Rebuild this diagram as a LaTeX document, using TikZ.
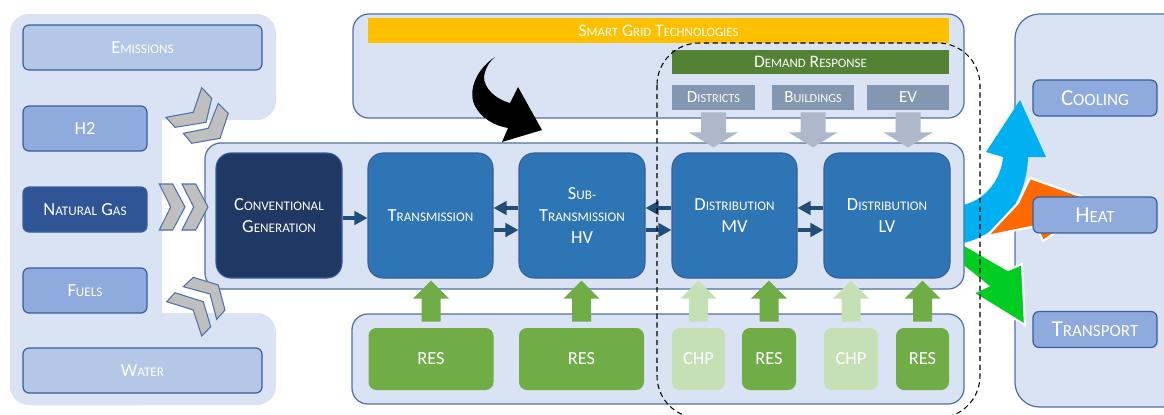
\documentclass[tikz,border=0pt]{standalone}
\usepackage{fontspec}
\setmainfont{Carlito}
\usetikzlibrary{calc,arrows.meta}

\definecolor{panelfill}{HTML}{DAE3F3}
\definecolor{panelline}{HTML}{4F71A8}
\definecolor{boxline}{HTML}{3A5D9C}
\definecolor{paleblue}{HTML}{B4C7E7}
\definecolor{midblue}{HTML}{8FAADC}
\definecolor{gasblue}{HTML}{2F5597}
\definecolor{navy}{HTML}{203864}
\definecolor{gridblue}{HTML}{2E75B6}
\definecolor{flowblue}{HTML}{1F4E79}
\definecolor{sgtyellow}{HTML}{FFC000}
\definecolor{drgreen}{HTML}{548235}
\definecolor{drgrey}{HTML}{8497B0}
\definecolor{drarrow}{HTML}{ADB9CA}
\definecolor{resgreen}{HTML}{70AD47}
\definecolor{chpgreen}{HTML}{C5E0B4}
\definecolor{chevfill}{HTML}{BFBFBF}
\definecolor{coolblue}{HTML}{00B0F0}
\definecolor{heatorange}{HTML}{FF6A00}
\definecolor{transgreen}{HTML}{00CC22}

% small capitals built from two sizes
\def\smcsize{7.5}
\newcommand\smc[1]{{\fontsize{\smcsize}{9}\selectfont #1}}

\begin{document}
\begin{tikzpicture}[x=0.02cm,y=-0.02cm,
  lbl/.style={text=white, inner sep=0pt, align=center,
              font=\fontsize{10.5}{12.5}\selectfont\def\smcsize{7.5}},
  biglbl/.style={font=\fontsize{13}{15}\selectfont\def\smcsize{9.7}},
  toplbl/.style={font=\fontsize{10}{12}\selectfont\def\smcsize{7.3}},
  drlbl/.style={font=\fontsize{9.7}{11}\selectfont\def\smcsize{7}},
  sbox/.style={lbl, draw=boxline, line width=0.7pt, rounded corners=3.5pt},
  gbox/.style={lbl, draw=boxline, line width=0.6pt, rounded corners=8.5pt},
  resbox/.style={lbl, rounded corners=4.5pt},
  wh/.style 2 args={minimum width=#1*0.02cm, minimum height=#2*0.02cm},
  panel/.style={fill=panelfill, draw=panelline, line width=0.7pt, rounded corners=9pt},
  flow/.style={draw=flowblue, line width=2.8pt, -{Triangle[length=7.4pt,width=7.6pt]}},
  chev/.style={fill=chevfill, draw=panelline, line width=0.6pt, line join=miter},
  frame/.style={draw=black, line width=0.6pt, dash pattern=on 3pt off 2pt, rounded corners=24pt}
]
\clip (0,0) rectangle (1164,414);
\fill[white] (0,0) rectangle (1164,414);

% resources panel on the left
\fill[panelfill, rounded corners=11pt] (10,14) rectangle (276,120);
\fill[panelfill, rounded corners=11pt] (10,14) rectangle (162,405);
\fill[panelfill, rounded corners=11pt] (10,313) rectangle (276,405);

% end-use panel on the right
\draw[panel, rounded corners=14pt] (1015,14) rectangle (1190,407);

% end-use arrows leaving the grid
\fill[coolblue] (963,205) .. controls (985,200) and (1001,180) .. (1003,157)
  -- (986,152) -- (1020,100) -- (1046,157) -- (1028,157)
  .. controls (1027,200) and (1000,235) .. (963,243) -- cycle;
\filldraw[fill=heatorange, draw=white, line width=1.2pt]
  (987,236) -- (1018,203) -- (1030,178) -- (1100,203) -- (1043,241) -- (1036,226) -- cycle;
\filldraw[fill=transgreen, draw=white, line width=1.2pt]
  (963,244) -- (1008,270) -- (1022,264) -- (1025,325) -- (973,293) -- (988,286) -- (963,266) -- cycle;

% grid panels
\draw[panel] (353,14) rectangle (964,118);
\draw[panel] (205,143) rectangle (964,289);
\draw[panel] (352,314) rectangle (964,404);

% resources
\node[sbox, fill=paleblue, wh={239}{45}] (emis)  at (142.5,47.5)  {E\smc{MISSIONS}};
\node[sbox, fill=midblue,  wh={124}{45}] (h2)    at (85,128.5)    {H2};
\node[sbox, fill=gasblue,  wh={124}{45}] (ng)    at (85,209.5)    {N\smc{ATURAL} G\smc{AS}};
\node[sbox, fill=midblue,  wh={124}{45}] (fuels) at (85,290.5)    {F\smc{UELS}};
\node[sbox, fill=paleblue, wh={239}{45}] (water) at (142.5,370.5) {W\smc{ATER}};

% smart grid technologies
\node[lbl, toplbl, fill=sgtyellow, wh={581}{25}] (sgt) at (658.5,30.5) {S\smc{MART} G\smc{RID} T\smc{ECHNOLOGIES}};
\node[lbl, toplbl, fill=drgreen, wh={277}{24}] (dr) at (810.5,62) {D\smc{EMAND} R\smc{ESPONSE}};
\node[lbl, drlbl, fill=drgrey, wh={83}{25}] (districts) at (713.5,97.5) {D\smc{ISTRICTS}};
\node[lbl, drlbl, fill=drgrey, wh={82}{25}] (buildings) at (813,97.5) {B\smc{UILDINGS}};
\node[lbl, drlbl, fill=drgrey, wh={82}{25}] (ev) at (908,97.5) {EV};

% grid chain
\node[gbox, fill=navy, wh={126}{125}] (conv) at (279,215.5) {C\smc{ONVENTIONAL}\\G\smc{ENERATION}};
\node[gbox, fill=gridblue, wh={125}{125}] (trans) at (430.5,215.5) {T\smc{RANSMISSION}};
\node[gbox, fill=gridblue, wh={126}{125}] (subt) at (582,215.5) {S\smc{UB-}\\T\smc{RANSMISSION}\\HV};
\node[gbox, fill=gridblue, wh={125}{125}] (dmv) at (734.5,215.5) {D\smc{ISTRIBUTION}\\MV};
\node[gbox, fill=gridblue, wh={126}{125}] (dlv) at (887,215.5) {D\smc{ISTRIBUTION}\\LV};

\draw[flow] ($(conv.east)+(0,2.5)$) -- ($(trans.west)+(0,2.5)$);
\draw[flow] ($(subt.west)+(0,-7.5)$) -- ($(trans.east)+(0,-7.5)$);
\draw[flow] ($(trans.east)+(0,14.5)$) -- ($(subt.west)+(0,14.5)$);
\draw[flow] ($(dmv.west)+(0,-7.5)$) -- ($(subt.east)+(0,-7.5)$);
\draw[flow] ($(subt.east)+(0,14.5)$) -- ($(dmv.west)+(0,14.5)$);
\draw[flow] ($(dlv.west)+(0,-7.5)$) -- ($(dmv.east)+(0,-7.5)$);
\draw[flow] ($(dmv.east)+(0,14.5)$) -- ($(dlv.west)+(0,14.5)$);

% local generation
\node[resbox, fill=resgreen, wh={125}{62}] (res1) at (431,359)   {RES};
\node[resbox, fill=resgreen, wh={125}{62}] (res2) at (581.5,359) {RES};
\node[resbox, fill=chpgreen, wh={53}{62}]  (chp1) at (698.5,359) {CHP};
\node[resbox, fill=resgreen, wh={54}{62}]  (res3) at (769,359)   {RES};
\node[resbox, fill=chpgreen, wh={54}{62}]  (chp2) at (851,359)   {CHP};
\node[resbox, fill=resgreen, wh={53}{62}]  (res4) at (922.5,359) {RES};

\foreach \n/\c in {res1/resgreen, res2/resgreen, chp1/chpgreen, res3/resgreen, chp2/chpgreen, res4/resgreen}
  \fill[\c, shift={(\n.north)}] (-9.5,-6) -- (-9.5,-29) -- (-18,-29) -- (0,-47)
    -- (18,-29) -- (9.5,-29) -- (9.5,-6) -- cycle;

% demand response feeding the distribution level
\foreach \n in {districts, buildings, ev}
  \fill[drarrow, shift={(\n.south)}] (-12.5,2) -- (-12.5,22) -- (-24.5,22) -- (0,37)
    -- (24.5,22) -- (12.5,22) -- (12.5,2) -- cycle;

% chevrons from the resources
\filldraw[chev] (166,117.3) -- (193.3,112.3) -- (201.7,87.7) -- (211.7,98.3) -- (206,122.3) -- (175,127.3) -- cycle;
\filldraw[chev] (183.3,133.3) -- (208.3,128.3) -- (218.3,103.3) -- (228.3,113.3) -- (220,138.3) -- (191.7,143.3) -- cycle;
\filldraw[chev] (159.3,184) -- (172.7,184) -- (185,207) -- (172.7,230) -- (159.3,230) -- (170.7,207) -- cycle;
\filldraw[chev] (182,184) -- (195.7,184) -- (208,207) -- (195.7,230) -- (182,230) -- (193.7,207) -- cycle;
\filldraw[chev] (175,292.7) -- (203.3,301.7) -- (210.7,326.7) -- (201.7,336) -- (193.3,310) -- (166.7,301.7) -- cycle;
\filldraw[chev] (193.3,277.3) -- (218.3,285) -- (225,310) -- (216.7,319.3) -- (210,294) -- (183.3,286.7) -- cycle;

% smart grid acting on the network
\fill[black] (495,57) .. controls (478,68) and (468,88) .. (474,104)
  .. controls (480,118) and (495,126) .. (508,128) -- (502,142) -- (542,130)
  -- (518,87) -- (510,103) .. controls (495,99) and (484,88) .. (484,77)
  .. controls (485,68) and (490,61) .. (495,57) -- cycle;

% end uses
\node[sbox, biglbl, fill=midblue, wh={124}{36}] (cooling)   at (1095,98)    {C\smc{OOLING}};
\node[sbox, biglbl, fill=midblue, wh={124}{36}] (heat)      at (1095,215)   {H\smc{EAT}};
\node[sbox, biglbl, fill=midblue, wh={124}{36}] (transport) at (1095,329.5) {T\smc{RANSPORT}};

% demand response boundary
\draw[frame] (657,43) rectangle (980,418);
\end{tikzpicture}
\end{document}
